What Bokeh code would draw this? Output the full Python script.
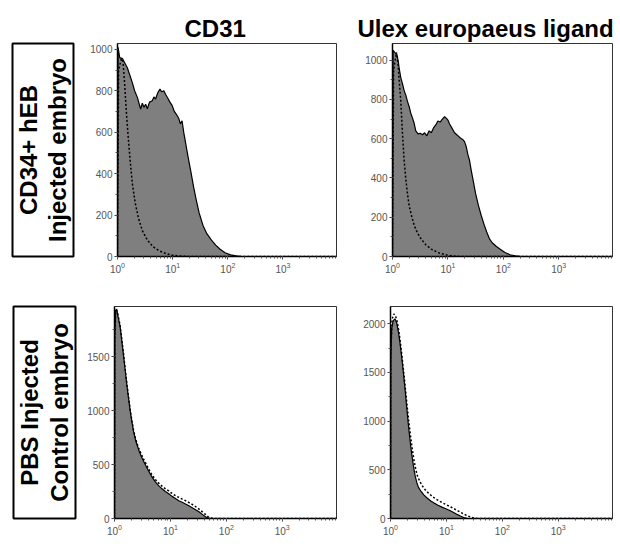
import numpy as np
from bokeh.plotting import figure
from bokeh.layouts import row, column
from bokeh.models import Range1d, SingleIntervalTicker
from bokeh.embed import file_html
from bokeh.resources import INLINE
from bokeh.core.properties import value

# ---------------- data (x in log10 units of fluorescence, y = cell counts) -------------
col_titles = ["CD31", "Ulex europaeus ligand"]
row_labels = ["CD34+ hEB\nInjected embryo", "PBS Injected\nControl embryo"]

# top-left: CD31, CD34+ hEB injected
tl_stain_logx = [0.00, 0.01, 0.04, 0.09, 0.14, 0.18, 0.23, 0.27, 0.31, 0.36, 0.40, 0.42, 0.45, 0.48,
                 0.51, 0.54, 0.58, 0.63, 0.66, 0.69, 0.73, 0.77, 0.80, 0.84, 0.87, 0.91, 0.95, 0.99,
                 1.03, 1.07, 1.11, 1.14, 1.17, 1.20, 1.24, 1.28, 1.33, 1.38, 1.43, 1.48, 1.55, 1.62,
                 1.70, 1.78, 1.86, 1.95, 2.05, 2.15, 2.25, 3.97]
tl_stain_count = [0, 1010, 960, 955, 930, 910, 870, 838, 800, 768, 730, 712, 740, 720,
                  735, 713, 745, 752, 770, 760, 790, 808, 795, 800, 783, 765, 745, 729,
                  700, 685, 667, 640, 655, 600, 540, 480, 410, 335, 270, 210, 150, 110,
                  80, 55, 35, 18, 8, 3, 0, 0]
tl_iso_logx = [0.00, 0.02, 0.07, 0.10, 0.13, 0.16, 0.19, 0.23, 0.27, 0.32, 0.38, 0.45, 0.54, 0.64,
               0.75, 0.88, 1.00, 1.15, 1.30, 3.97]
tl_iso_count = [0, 900, 955, 940, 830, 700, 590, 460, 350, 260, 185, 125, 80, 48,
                28, 14, 6, 2, 0, 0]

# top-right: Ulex europaeus ligand, CD34+ hEB injected
tr_stain_logx = [0.00, 0.01, 0.04, 0.08, 0.10, 0.12, 0.15, 0.18, 0.21, 0.24, 0.27, 0.30, 0.33, 0.36,
                 0.39, 0.42, 0.46, 0.50, 0.54, 0.58, 0.62, 0.66, 0.70, 0.74, 0.78, 0.82, 0.86, 0.90,
                 0.94, 0.97, 1.00, 1.03, 1.07, 1.12, 1.17, 1.22, 1.27, 1.30, 1.33, 1.36, 1.39, 1.42,
                 1.45, 1.50, 1.55, 1.60, 1.65, 1.70, 1.75, 1.80, 1.87, 1.95, 2.03, 2.12, 2.22, 2.32,
                 3.97]
tr_stain_count = [0, 1050, 1040, 1028, 1000, 960, 910, 880, 845, 822, 790, 764, 730, 706,
                  680, 640, 625, 628, 620, 630, 615, 640, 630, 655, 670, 690, 685, 700,
                  712, 705, 695, 675, 655, 630, 618, 605, 595, 585, 560, 520, 490, 440,
                  395, 320, 260, 210, 165, 125, 90, 70, 52, 36, 20, 9, 3, 0,
                  0]
tr_iso_logx = [0.00, 0.02, 0.07, 0.10, 0.12, 0.15, 0.18, 0.21, 0.24, 0.27, 0.30, 0.35, 0.39, 0.45,
               0.52, 0.60, 0.70, 0.82, 0.94, 1.05, 1.20, 3.97]
tr_iso_count = [0, 950, 1040, 980, 900, 790, 625, 490, 395, 320, 260, 200, 160, 120,
                88, 60, 38, 20, 10, 4, 0, 0]

# bottom-left: CD31, PBS injected control
bl_stain_logx = [0.00, 0.005, 0.02, 0.04, 0.06, 0.10, 0.13, 0.16, 0.19, 0.22, 0.25, 0.28, 0.31, 0.34,
                 0.38, 0.43, 0.48, 0.52, 0.57, 0.61, 0.67, 0.73, 0.79, 0.85, 0.91, 0.97, 1.03, 1.09,
                 1.15, 1.21, 1.27, 1.33, 1.39, 1.45, 1.51, 1.57, 1.62, 1.67, 1.72, 3.97]
bl_stain_count = [0, 1700, 1930, 1940, 1880, 1780, 1650, 1520, 1380, 1240, 1120, 1000, 900, 810,
                  720, 640, 575, 530, 480, 440, 385, 340, 305, 275, 250, 230, 205, 185,
                  165, 150, 135, 118, 100, 82, 62, 38, 18, 5, 0, 0]
bl_iso_logx = [0.00, 0.005, 0.02, 0.04, 0.06, 0.10, 0.13, 0.16, 0.19, 0.22, 0.25, 0.28, 0.31, 0.34,
               0.38, 0.43, 0.48, 0.52, 0.57, 0.61, 0.67, 0.73, 0.79, 0.85, 0.91, 0.97, 1.03, 1.09,
               1.15, 1.21, 1.27, 1.33, 1.39, 1.45, 1.51, 1.57, 1.62, 1.67, 1.72, 1.78, 3.97]
bl_iso_count = [0, 1650, 1900, 1930, 1890, 1790, 1660, 1530, 1390, 1255, 1130, 1010, 910, 820,
                730, 655, 595, 550, 500, 460, 405, 362, 328, 300, 275, 255, 232, 212,
                195, 180, 165, 148, 130, 110, 87, 62, 40, 18, 5, 0, 0]

# bottom-right: Ulex europaeus ligand, PBS injected control
br_stain_logx = [0.00, 0.005, 0.02, 0.05, 0.08, 0.11, 0.14, 0.17, 0.20, 0.23, 0.26, 0.29, 0.32, 0.35,
                 0.38, 0.41, 0.44, 0.47, 0.50, 0.55, 0.60, 0.66, 0.72, 0.78, 0.85, 0.92, 0.99, 1.06,
                 1.13, 1.19, 1.25, 1.31, 1.37, 1.42, 3.97]
br_stain_count = [0, 1600, 1950, 2030, 2050, 2010, 1920, 1800, 1660, 1500, 1330, 1140, 960, 800,
                  660, 540, 440, 370, 320, 275, 240, 208, 180, 158, 136, 117, 100, 82,
                  62, 42, 25, 10, 2, 0, 0]
br_iso_logx = [0.00, 0.005, 0.03, 0.06, 0.09, 0.12, 0.15, 0.18, 0.21, 0.24, 0.27, 0.30, 0.33, 0.36,
               0.39, 0.42, 0.45, 0.48, 0.52, 0.57, 0.62, 0.68, 0.74, 0.80, 0.87, 0.94, 1.01, 1.08,
               1.15, 1.22, 1.29, 1.36, 1.43, 1.50, 1.56, 3.97]
br_iso_count = [0, 1700, 2050, 2100, 2080, 2020, 1920, 1790, 1640, 1480, 1310, 1140, 980, 840,
                710, 600, 510, 440, 385, 335, 295, 260, 230, 205, 180, 158, 138, 118,
                96, 74, 52, 32, 15, 5, 0, 0]

x_log_max = 3.97
y_max = [1028, 1085, 1964, 2176]
y_tick_interval = [200, 200, 500, 500]

FONT = "Liberation Sans"
FILL = "#7f7f7f"


def make_panel(width, height, borders, ymax, yint, stain, iso, title=None, title_offset=0):
    left, right, top, bottom = borders
    p = figure(width=width, height=height, x_axis_type="log",
               x_range=Range1d(1, 10 ** x_log_max), y_range=Range1d(0, ymax),
               output_backend="svg", toolbar_location=None, title=title,
               min_border_left=left, min_border_right=right,
               min_border_top=top, min_border_bottom=bottom)
    p.grid.visible = False
    p.outline_line_color = "#333333"
    p.outline_line_width = 1
    p.background_fill_color = "white"
    p.border_fill_color = "white"
    for ax in (p.xaxis, p.yaxis):
        ax.axis_line_color = "black"
        ax.axis_line_width = 1.5
        ax.major_tick_in = 0
        ax.major_tick_out = 3
        ax.minor_tick_in = 0
        ax.minor_tick_out = 2
        ax.major_label_text_font = FONT
        ax.major_label_text_font_size = "10px"
        ax.major_label_text_color = "#555555"
        ax.major_label_standoff = 2
        ax.major_tick_line_color = "#333333"
        ax.minor_tick_line_color = "#555555"
    p.yaxis.ticker = SingleIntervalTicker(interval=yint, num_minor_ticks=2)

    sx = [10 ** v for v in stain[0]]
    ix = [10 ** v for v in iso[0]]
    p.varea(x=sx, y1=0, y2=stain[1], fill_color=FILL)
    p.line(ix, iso[1], line_color="black", line_width=1.5, line_dash="2 2")
    p.line(sx, stain[1], line_color="black", line_width=1.2)

    if title is not None:
        p.title.align = "left"
        p.title.offset = title_offset
        p.title.standoff = 4
        p.title.text_font = FONT
        p.title.text_font_size = "24px"
        p.title.text_font_style = "bold"
        p.title.text_color = "black"
        p.title.text_line_height = 1.0
    return p


def make_label(width, height, borders, text):
    left, right, top, bottom = borders
    p = figure(width=width, height=height, x_range=Range1d(0, 1), y_range=Range1d(0, 1),
               output_backend="svg", toolbar_location=None, title=None,
               x_axis_location=None, y_axis_location=None,
               min_border_left=left, min_border_right=right,
               min_border_top=top, min_border_bottom=bottom)
    p.grid.visible = False
    p.outline_line_color = "black"
    p.outline_line_width = 2
    p.text(x=[0.5], y=[0.5], text=[text], angle=np.pi / 2,
           text_align="center", text_baseline="middle",
           text_font=value(FONT), text_font_size="24px", text_font_style="bold",
           text_color="black", text_line_height=1.1)
    return p


# page origin is the window's top-left corner (Bokeh's page has no body margin)
lbl1 = make_label(80, 283, (12, 7, 43, 16), row_labels[0])
lbl2 = make_label(80, 265, (13, 5, 23, 29), row_labels[1])

tl = make_panel(258, 283, (37, 2, 36, 27), y_max[0], y_tick_interval[0],
                (tl_stain_logx, tl_stain_count), (tl_iso_logx, tl_iso_count),
                title=col_titles[0], title_offset=67)
tr = make_panel(282, 283, (54, 8, 37, 27), y_max[1], y_tick_interval[1],
                (tr_stain_logx, tr_stain_count), (tr_iso_logx, tr_iso_count),
                title=col_titles[1], title_offset=-35)
bl = make_panel(258, 265, (34, 2, 19, 30), y_max[2], y_tick_interval[2],
                (bl_stain_logx, bl_stain_count), (bl_iso_logx, bl_iso_count))
br = make_panel(282, 265, (52, 8, 16, 27), y_max[3], y_tick_interval[3],
                (br_stain_logx, br_stain_count), (br_iso_logx, br_iso_count))

layout = column(row(lbl1, tl, tr, spacing=0), row(lbl2, bl, br, spacing=0), spacing=0)

open("out.html", "w").write(file_html(layout, INLINE))
